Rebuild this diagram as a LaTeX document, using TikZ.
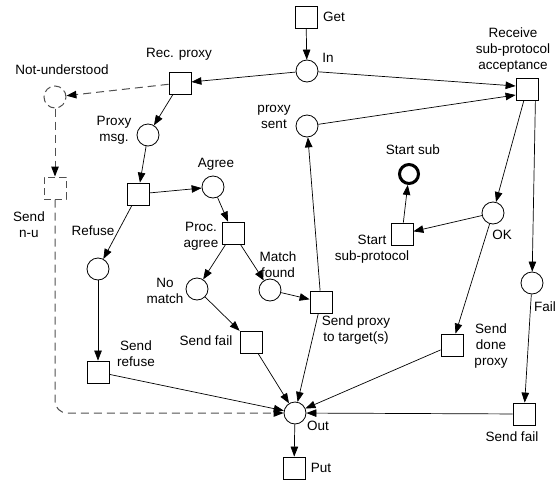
\documentclass[tikz,border=0pt]{standalone}
\usepackage{fontspec}
\setmainfont{Liberation Sans}
\usetikzlibrary{arrows.meta,calc}
\definecolor{dgray}{RGB}{80,80,80}
\begin{document}
\begin{tikzpicture}[x=1pt,y=-1pt,
  place/.style={circle,draw,line width=0.8pt,minimum size=22pt,inner sep=0pt},
  trans/.style={rectangle,draw,line width=0.8pt,minimum size=22pt,inner sep=0pt},
  dplace/.style={place,draw=dgray,line width=1pt,dash pattern=on 7pt off 4pt},
  dtrans/.style={trans,draw=dgray,line width=1pt,dash pattern=on 7pt off 4pt},
  thickplace/.style={circle,draw,line width=3pt,minimum size=19pt,inner sep=0pt},
  lbl/.style={font=\fontsize{13.5}{16}\selectfont,inner sep=0pt,align=center},
  arc/.style={draw,line width=0.7pt,-{Triangle[length=10pt,width=7.5pt]}},
  darc/.style={draw=dgray,line width=1pt,dash pattern=on 8pt off 5pt,-{Triangle[length=10pt,width=7.5pt,color=black]}}]
\useasboundingbox (0,0) rectangle (560,480);

% places and transitions
\node[trans] (get) at (306,17) {};
\node[place] (in) at (307,71) {};
\node[trans] (recp) at (180,83) {};
\node[trans] (recv) at (527,89) {};
\node[dplace] (notund) at (55,97) {};
\node[place] (psent) at (307,126) {};
\node[place] (pmsg) at (148,135) {};
\node[thickplace] (startsub) at (409,174) {};
\node[dtrans] (snu) at (55,188) {};
\node[trans] (branch) at (138,194) {};
\node[place] (agree) at (213,187) {};
\node[trans] (procag) at (233,233) {};
\node[trans] (startsp) at (402,234) {};
\node[place] (ok) at (493,213) {};
\node[place] (refuse) at (98,269) {};
\node[place] (nomatch) at (197,289) {};
\node[place] (mfound) at (270,290) {};
\node[place] (fail) at (532,283) {};
\node[trans] (sproxy) at (321,302) {};
\node[trans] (sfailm) at (251,342) {};
\node[trans] (sdone) at (452,345) {};
\node[trans] (srefuse) at (98,372) {};
\node[place] (out) at (295,413) {};
\node[trans] (sfailr) at (524,414) {};
\node[trans] (put) at (294,468) {};

% labels
\node[lbl] (lget) at (334,17) {Get};
\node[lbl] (lin) at (328,58) {In};
\node[lbl] (lrecp) at (179,54) {Rec. proxy};
\node[lbl] (lrecv) at (513,50) {Receive\\sub-protocol\\acceptance};
\node[lbl] (lnotund) at (62,70) {Not-understood};
\node[lbl] (lpsent) at (274,117) {proxy\\sent};
\node[lbl] (lpmsg) at (114,130) {Proxy\\msg.};
\node[lbl] (lstartsub) at (413,150) {Start sub};
\node[lbl] (lsnu) at (29,225) {Send\\n-u};
\node[lbl] (lagree) at (216,164) {Agree};
\node[lbl] (lprocag) at (201,236) {Proc.\\agree};
\node[lbl] (lstartsp) at (372,249) {Start\\sub-protocol};
\node[lbl] (lok) at (502,235) {OK};
\node[lbl] (lrefuse) at (93,231) {Refuse};
\node[lbl] (lnomatch) at (165,291) {No\\match};
\node[lbl] (lmfound) at (278,265) {Match\\found};
\node[lbl] (lfail) at (545,307) {Fail};
\node[lbl] (lsproxy) at (356,330) {Send proxy\\to target(s)};
\node[lbl] (lsfailm) at (206,341) {Send fail};
\node[lbl] (lsdone) at (491,346) {Send\\done\\proxy};
\node[lbl] (lsrefuse) at (136,354) {Send\\refuse};
\node[lbl] (lsfailr) at (512,437) {Send fail};
\node[lbl] (lout) at (318,426) {Out};
\node[lbl] (lput) at (321,468) {Put};

% arcs
\draw[arc] (get) -- (in);
\draw[arc] (in) -- (recp);
\draw[arc] (in) -- ($(recv.west)+(0,-3)$);
\draw[arc] (psent) -- ($(recv.west)+(0,6)$);
\draw[darc] (recp) -- (notund);
\draw[arc] (recp) -- (pmsg);
\draw[darc] (notund) -- (snu);
\draw[darc,rounded corners=12pt] (snu.south) |- (out.west);
\draw[arc] (pmsg) -- (branch);
\draw[arc] (branch) -- (agree);
\draw[arc] (branch) -- (refuse);
\draw[arc] (agree) -- (procag);
\draw[arc] (procag) -- (nomatch);
\draw[arc] (procag) -- (mfound);
\draw[arc] (nomatch) -- (sfailm);
\draw[arc] (mfound) -- (sproxy);
\draw[arc] (sproxy) -- (psent);
\draw[arc] (sproxy) -- (out);
\draw[arc] (sfailm) -- (out);
\draw[arc] (refuse) -- (srefuse);
\draw[arc] (srefuse) -- (out);
\draw[arc] (recv) -- (ok);
\draw[arc] ($(recv.south east)+(-3,0)$) -- (fail);
\draw[arc] (ok) -- (startsp);
\draw[arc] (startsp) -- (startsub);
\draw[arc] (ok) -- (sdone);
\draw[arc] (sdone) -- (out);
\draw[arc] (fail) -- (sfailr);
\draw[arc] (sfailr) -- (out);
\draw[arc] (out) -- (put);
\end{tikzpicture}
\end{document}
